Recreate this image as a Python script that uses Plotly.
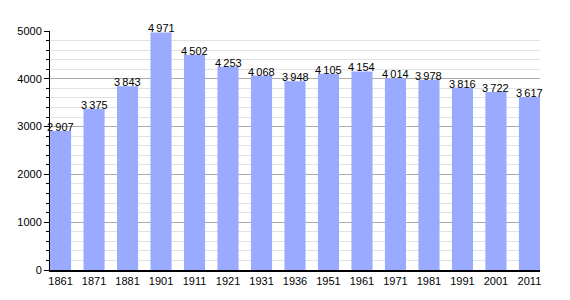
import plotly.graph_objects as go

years = ["1861", "1871", "1881", "1901", "1911", "1921", "1931", "1936",
         "1951", "1961", "1971", "1981", "1991", "2001", "2011"]
population = [2907, 3375, 3843, 4971, 4502, 4253, 4068, 3948,
              4105, 4154, 4014, 3978, 3816, 3722, 3617]
labels = [f"{v:,}".replace(",", "\u2009") for v in population]

bargap = 0.37
half = (1 - bargap) / 2

fig = go.Figure(go.Bar(
    x=years, y=population,
    marker=dict(color="#99aaff", line=dict(width=0)),
    hoverinfo="x+y",
))

for i, (v, t) in enumerate(zip(population, labels)):
    fig.add_annotation(x=i, y=v, xref="x", yref="y", text=t, showarrow=False,
                       yanchor="bottom", yshift=-4,
                       font=dict(size=11, color="black",
                                 family="Liberation Sans, Arial"))

fig.update_layout(
    width=570, height=300,
    margin=dict(l=50, r=30, t=31, b=30),
    plot_bgcolor="white", paper_bgcolor="white",
    bargap=bargap, showlegend=False,
    font=dict(family="Liberation Sans, Arial", size=11, color="black"),
)
fig.update_xaxes(
    type="category", range=[-half, len(years) - 1 + half],
    showline=True, linecolor="black", linewidth=1.5,
    ticks="", tickfont=dict(size=11), showgrid=False,
)
fig.update_yaxes(
    range=[0, 5000], dtick=1000, showline=True, linecolor="black", linewidth=1,
    ticks="outside", ticklen=5, tickcolor="black",
    showgrid=True, gridcolor="#ababab", gridwidth=1,
    zeroline=False, tickfont=dict(size=11),
    minor=dict(dtick=200, ticks="outside", ticklen=3, tickcolor="black",
               showgrid=True, gridcolor="#e2e2e2", gridwidth=1),
)

fig.write_html("out.html")
